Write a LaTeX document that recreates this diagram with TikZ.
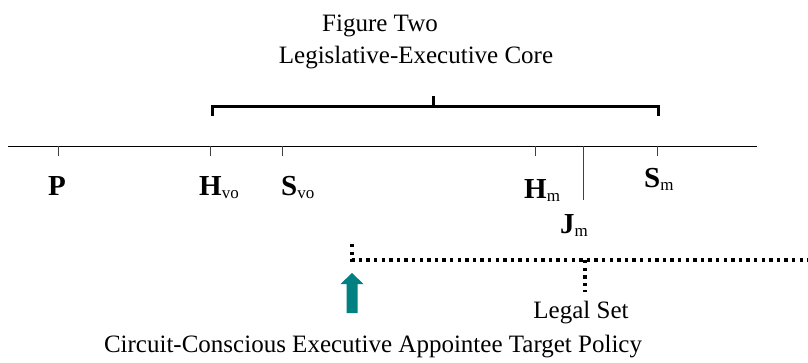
\documentclass[tikz,border=0pt]{standalone}
\usepackage{fontspec}
\setmainfont{Liberation Serif}
\definecolor{tealarrow}{RGB}{0,128,128}
\newcommand{\ptlabel}[2]{{\fontsize{29}{29}\selectfont\bfseries #1}\raisebox{-3pt}{\fontsize{17}{17}\selectfont #2}}

\begin{document}
\begin{tikzpicture}[x=1pt, y=-1pt,
	txt/.style={inner sep=0pt, anchor=base, font=\fontsize{25}{25}\selectfont},
	ptlab/.style={inner sep=0pt, anchor=base west},
	tick/.style={line width=0.8pt, black!75},
	dotline/.style={line width=3.4pt, dash pattern=on 3.4pt off 4.2pt}]
	\useasboundingbox (0,0) rectangle (808,362);
	% titles
	\node[txt] (title) at (380, 31) {Figure Two};
	\node[txt] (core) at (416, 63) {Legislative-Executive Core};
	% bracket
	\coordinate (BL) at (212, 106);
	\coordinate (BR) at (658, 106);
	\coordinate (BM) at (433, 106);
	\draw[line width=3pt] (212, 116) -- (BL) -- (BR) -- (658, 116);
	\draw[line width=3pt] (BM) -- (433, 96);
	% axis
	\coordinate (AL) at (8, 146);
	\coordinate (AR) at (757, 146);
	\draw[line width=1pt] (AL) -- (AR);
	\draw[tick] (58, 146) -- (58, 156);
	\draw[tick] (210, 146) -- (210, 156);
	\draw[tick] (282, 146) -- (282, 156);
	\draw[tick] (535, 146) -- (535, 156);
	\draw[tick] (657, 146) -- (657, 156);
	\draw[tick] (583, 146) -- (583, 200);
	% points
	\node[ptlab] (P) at (48, 195) {\ptlabel{P}{}};
	\node[ptlab] (Hvo) at (199, 195) {\ptlabel{H}{vo}};
	\node[ptlab] (Svo) at (281, 195) {\ptlabel{S}{vo}};
	\node[ptlab] (Hm) at (524, 198) {\ptlabel{H}{m}};
	\node[ptlab] (Sm) at (644, 187) {\ptlabel{S}{m}};
	\node[ptlab] (Jm) at (560, 233) {\ptlabel{J}{m}};
	% legal set
	\coordinate (LS0) at (352, 244);
	\coordinate (LS1) at (352, 260);
	\coordinate (LS2) at (808, 260);
	\coordinate (LS3) at (585, 260);
	\coordinate (LS4) at (585, 292);
	\draw[dotline] (LS0) -- (LS1) -- (LS2);
	\draw[dotline] (LS3) -- (LS4);
	\node[txt] (legal) at (581, 318) {Legal Set};
	% target
	\fill[tealarrow] (346.5, 313) -- (346.5, 284) -- (340.5, 284) -- (352, 273)
		-- (363.5, 284) -- (357.5, 284) -- (357.5, 313) -- cycle;
	\node[txt] (target) at (373, 352) {Circuit-Conscious Executive Appointee Target Policy};
\end{tikzpicture}
\end{document}
